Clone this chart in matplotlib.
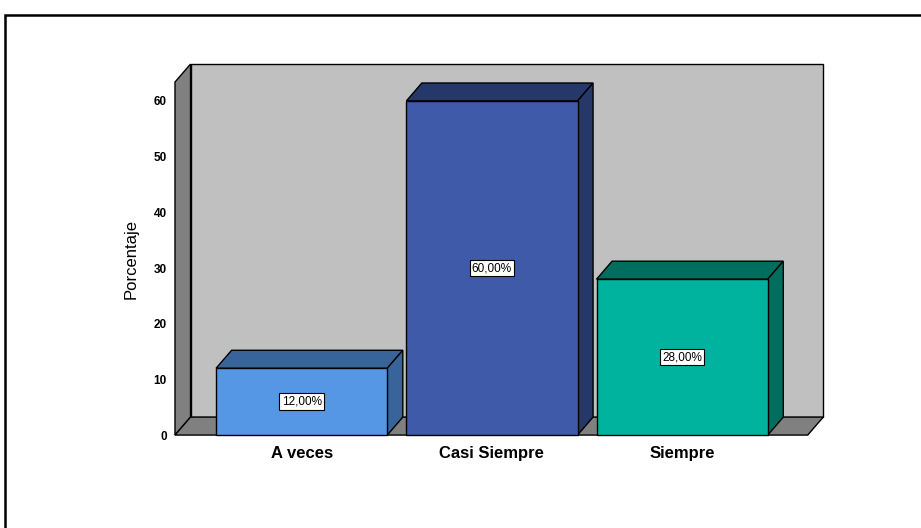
import matplotlib.pyplot as plt
from matplotlib.patches import Polygon, Rectangle

plt.rcParams['font.family'] = ['Liberation Sans', 'DejaVu Sans']

categorias = ['A veces', 'Casi Siempre', 'Siempre']
porcentajes = [12.0, 60.0, 28.0]
etiquetas = ['12,00%', '60,00%', '28,00%']
color_frente = ['#5597e4', '#3e5aa8', '#00b39e']
color_lado = ['#39649a', '#263769', '#006e5f']

ymax = 63.4
xmin, xmax = -0.666, 2.66
ancho = 0.9
# depth offset of the 3d effect, in data units
dx, dy = 0.0816, 3.23

fig = plt.figure(figsize=(9.21, 5.28), dpi=100)
ax = fig.add_axes([0.19, 0.176, 0.687, 0.6686])
ax.set_xlim(xmin, xmax)
ax.set_ylim(0, ymax)
ax.set_facecolor('none')
for s in ax.spines.values():
    s.set_visible(False)

# walls and floor
pared = Polygon([(xmin + dx, dy), (xmax + dx, dy), (xmax + dx, ymax + dy), (xmin + dx, ymax + dy)],
                closed=True, fc='#c0c0c0', ec='black', lw=1, clip_on=False, zorder=1)
lado = Polygon([(xmin, 0), (xmin + dx, dy), (xmin + dx, ymax + dy), (xmin, ymax)],
               closed=True, fc='#808080', ec='black', lw=1, clip_on=False, zorder=1)
piso = Polygon([(xmin, 0), (xmax, 0), (xmax + dx, dy), (xmin + dx, dy)],
               closed=True, fc='#808080', ec='black', lw=1, clip_on=False, zorder=1)
for p in (pared, lado, piso):
    ax.add_patch(p)

# 3d bars
for i, v in enumerate(porcentajes):
    x0 = i - ancho / 2
    x1 = i + ancho / 2
    ax.bar(i, v, width=ancho, color=color_frente[i], edgecolor='black', lw=1, zorder=3, clip_on=False)
    tapa = Polygon([(x0, v), (x1, v), (x1 + dx, v + dy), (x0 + dx, v + dy)],
                   closed=True, fc=color_lado[i], ec='black', lw=1, clip_on=False, zorder=2)
    costado = Polygon([(x1, 0), (x1 + dx, dy), (x1 + dx, v + dy), (x1, v)],
                      closed=True, fc=color_lado[i], ec='black', lw=1, clip_on=False, zorder=2)
    ax.add_patch(tapa)
    ax.add_patch(costado)
    ax.text(i, v / 2, etiquetas[i], ha='center', va='center', fontsize=8.5, zorder=5,
            bbox=dict(boxstyle='square,pad=0.2', fc='white', ec='black', lw=0.8))

ax.set_xticks(range(len(categorias)))
ax.set_xticklabels(categorias, fontsize=12, fontweight='bold')
ax.set_yticks([0, 10, 20, 30, 40, 50, 60])
ax.tick_params(axis='y', length=0, pad=6, labelsize=8.5)
ax.tick_params(axis='x', length=0, pad=8)
for t in ax.get_yticklabels():
    t.set_fontweight('bold')
ax.set_ylabel('Porcentaje', fontsize=12)
ax.yaxis.set_label_coords(-0.058, 0.5)

# outer frame
fig.patches.append(Rectangle((5 / 921, -0.1), 1.2, 1.1 - 15 / 528, transform=fig.transFigure,
                             fill=False, ec='black', lw=1.8))

fig.savefig('out.png', dpi=100)
